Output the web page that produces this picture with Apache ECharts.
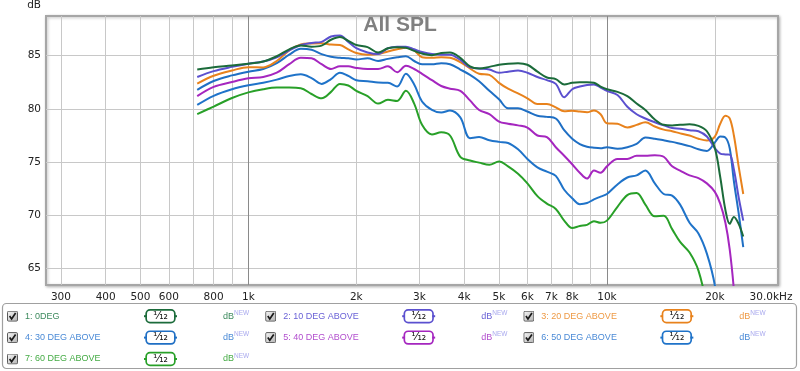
<!DOCTYPE html>
<html>
<head>
<meta charset="utf-8">
<script src="https://cdn.jsdelivr.net/npm/echarts@6/dist/echarts.min.js"></script>
<style>
html,body{margin:0;padding:0;background:#fff;}
#chart{width:800px;height:371px;}
</style>
</head>
<body>
<div id="chart"></div>
<script>
// ---------- data ----------
const FREQ_HZ = [720, 800, 900, 1000, 1100, 1200, 1300, 1400, 1500, 1600, 1700, 1800, 1900, 2000, 2150, 2300, 2450, 2600, 2750, 2900,
  3050, 3250, 3450, 3650, 3900, 4150, 4400, 4700, 5000, 5300, 5650, 6000, 6400, 6800, 7200, 7600, 8000, 8400, 8800, 9200,
  9600, 10000, 10700, 11400, 12100, 12800, 13600, 14400, 15200, 16000, 17000, 18000, 19000, 20000, 20700, 21400, 22000, 22600, 23300, 24000];

const SERIES_NAMES = ['1: 0DEG', '2: 10 DEG ABOVE', '3: 20 DEG ABOVE', '4: 30 DEG ABOVE', '5: 40 DEG ABOVE', '6: 50 DEG ABOVE', '7: 60 DEG ABOVE'];

const DB_0DEG = [83.7, 83.92, 84.07, 84.24, 84.45, 84.95, 85.6, 85.95, 85.85, 85.95, 86.5, 86.75, 86.4, 86.0, 85.8, 85.3, 85.7, 85.8, 85.75, 85.45,
  85.2, 85.05, 85.25, 85.3, 84.8, 84.0, 83.8, 83.95, 84.15, 84.25, 84.3, 84.15, 83.5, 82.95, 82.8, 82.3, 82.45, 82.5, 82.5, 82.45,
  82.1, 81.85, 81.6, 81.2, 80.5, 79.9, 79.0, 78.5, 78.45, 78.5, 78.55, 78.4, 77.9, 76.3, 73.6, 70.5, 69.2, 69.85, 69.2, 68.0];
const DB_10DEG = [83.0, 83.55, 83.95, 84.25, 84.45, 84.85, 85.5, 86.0, 86.2, 86.3, 86.8, 86.9, 86.3, 85.7, 85.3, 85.15, 85.7, 85.85, 85.85, 85.6,
  85.35, 85.15, 85.1, 85.1, 84.6, 83.9, 83.8, 83.7, 83.4, 83.5, 83.6, 83.4, 83.0, 82.7, 82.35, 81.1, 81.85, 82.1, 82.25, 82.3,
  82.0, 81.7, 81.3, 80.2, 79.5, 79.1, 78.75, 78.45, 78.2, 78.13, 78.0, 77.9, 77.4, 76.3, 75.8, 75.72, 75.7, 74.3, 71.7, 69.5];
const DB_20DEG = [82.38, 83.12, 83.61, 83.92, 83.9, 84.5, 85.5, 86.05, 86.15, 86.17, 86.05, 86.0, 85.6, 85.25, 85.1, 85.15, 85.4, 85.6, 85.75, 85.5,
  84.85, 84.8, 84.85, 84.8, 84.4, 83.8, 83.3, 83.2, 82.45, 81.9, 81.45, 81.0, 80.45, 80.45, 80.15, 79.77, 79.83, 79.75, 79.68, 79.85,
  79.5, 78.65, 78.6, 78.25, 78.5, 78.75, 78.35, 78.05, 77.9, 77.7, 77.5, 77.2, 77.03, 77.4, 78.6, 79.35, 79.1, 77.5, 74.6, 72.0];
const DB_30DEG = [81.79, 82.62, 83.15, 83.5, 83.75, 84.3, 85.1, 85.65, 85.55, 85.15, 84.9, 84.8, 84.75, 84.65, 84.75, 84.5, 84.7, 84.85, 84.95, 84.5,
  84.2, 84.2, 84.3, 84.2, 83.7, 83.2, 82.6, 81.7, 80.9, 80.05, 80.05, 79.75, 79.35, 79.25, 79.1, 78.0, 77.2, 76.7, 76.45, 76.35,
  76.3, 76.4, 76.25, 76.4, 76.72, 77.3, 77.2, 77.05, 76.9, 76.72, 76.5, 76.2, 76.05, 76.85, 77.4, 77.3, 76.3, 73.2, 70.2, 67.0];
const DB_40DEG = [81.2, 82.07, 82.53, 82.87, 83.0, 83.4, 84.2, 84.8, 84.75, 84.2, 83.75, 84.0, 84.0, 83.85, 83.75, 83.75, 84.0, 83.45, 84.05, 83.75,
  83.3, 82.7, 82.15, 81.9, 81.7, 80.8, 79.9, 79.5, 78.8, 78.6, 78.45, 78.25, 77.5, 77.35, 76.4, 75.6, 74.8, 74.0, 73.45, 74.2,
  74.0, 74.6, 75.3, 75.3, 75.6, 75.6, 75.65, 75.5, 74.6, 74.2, 73.75, 73.5, 73.0, 72.2, 71.1, 69.3, 66.8, 63.0, 57.0, null];
const DB_50DEG = [80.37, 81.23, 81.85, 82.22, 82.45, 82.75, 83.1, 83.25, 82.9, 82.35, 82.8, 83.4, 83.1, 82.7, 82.6, 82.47, 82.45, 82.1, 83.3, 82.3,
  80.7, 79.9, 79.65, 79.85, 79.2, 77.25, 77.35, 77.05, 76.9, 76.8, 76.2, 75.3, 74.5, 74.1, 73.7, 72.4, 71.6, 71.05, 71.15, 71.5,
  71.75, 72.0, 72.9, 73.55, 73.75, 74.2, 73.0, 72.0, 71.85, 71.0, 69.3, 68.3, 66.4, 63.4, 59.0, null, null, null, null, null];
const DB_60DEG = [79.51, 80.22, 81.02, 81.55, 81.85, 82.0, 82.0, 81.95, 81.4, 81.0, 81.6, 82.35, 82.2, 81.7, 81.2, 80.5, 80.85, 80.75, 81.7, 80.5,
  78.5, 77.6, 77.8, 77.5, 75.5, 75.15, 74.95, 74.75, 75.05, 74.6, 73.9, 73.0, 71.8, 71.1, 70.6, 69.5, 68.8, 69.0, 69.1, 69.45,
  69.3, 69.5, 70.8, 71.9, 72.1, 71.0, 69.9, 69.95, 68.7, 67.5, 66.5, 64.8, 61.5, 57.0, null, null, null, null, null, null];

const SERIES_VALUES = [DB_0DEG, DB_10DEG, DB_20DEG, DB_30DEG, DB_40DEG, DB_50DEG, DB_60DEG];

// axis ticks / labels
const GRID_FREQS = [300, 400, 500, 600, 700, 800, 900, 2000, 3000, 4000, 5000, 6000, 7000, 8000, 9000, 20000];
const MAJOR_FREQS = [1000, 10000];
const TICK_FREQS = [300, 400, 500, 600, 800, 1000, 2000, 3000, 4000, 5000, 6000, 7000, 8000, 10000, 20000, 30000];
const TICK_LABELS = ['300', '400', '500', '600', '800', '1k', '2k', '3k', '4k', '5k', '6k', '7k', '8k', '10k', '20k', '30.0kHz'];
const DB_TICKS = [65, 70, 75, 80, 85];
const X_MIN_HZ = 272.6, X_MAX_HZ = 30000;
const Y_MIN_DB = 63.45, Y_MAX_DB = 88.73;

// ---------- styles ----------
const LINE_COLORS = ['#1b6b3a', '#5b50cf', '#e8821c', '#1f6fc4', '#a526bf', '#1f73c9', '#28a028'];
const TEXT_COLORS = ['#3d8a5e', '#6a62d6', '#ee9a45', '#4a8ad6', '#b24fce', '#4a8ad6', '#45ab45'];
const NEW_COLOR = '#a9a9ee';
const AX_FONT = 'DejaVu Sans';
const LG_FONT = 'Liberation Sans';

const L = v => Math.log10(v);

const cbSvg = "<svg xmlns='http://www.w3.org/2000/svg' width='11' height='11'><defs><linearGradient id='g' x1='0' y1='0' x2='1' y2='1'><stop offset='0' stop-color='#f6f6f6'/><stop offset='1' stop-color='#b4b4b4'/></linearGradient></defs><rect x='0.5' y='0.5' width='10' height='10' rx='1.2' fill='url(#g)' stroke='#5a5a5a'/><path d='M2.6 5.4 L4.6 8.2 L8.6 2.4' fill='none' stroke='#1a1a1a' stroke-width='1.7'/></svg>";
const CB_ICON = 'image://data:image/svg+xml;base64,' + btoa(cbSvg);

const rich = {
  p: { width: 2 },
  n: { width: 119, fontFamily: LG_FONT, fontSize: 9, lineHeight: 13 },
  g: { width: 46 },
  e: { width: 9 }
};
LINE_COLORS.forEach((c, i) => {
  rich['l' + i] = { width: 3, height: 2, backgroundColor: c };
  rich['b' + i] = { width: 25, height: 9, lineHeight: 9, padding: [1, 1, 1, 1], borderColor: c, borderWidth: 1.7, borderRadius: 3,
    backgroundColor: '#fff', align: 'center', color: '#111', fontFamily: AX_FONT, fontSize: 11 };
  rich['d' + i] = { color: TEXT_COLORS[i], fontFamily: LG_FONT, fontSize: 9, lineHeight: 13 };
  rich['s' + i] = { color: NEW_COLOR, fontFamily: LG_FONT, fontSize: 6.5, verticalAlign: 'top', lineHeight: 10 };
});

const chart = echarts.init(document.getElementById('chart'), null, { renderer: 'canvas' });

const xHelper = {
  type: 'value', min: L(X_MIN_HZ), max: L(X_MAX_HZ), position: 'bottom',
  axisLine: { show: false }, axisLabel: { show: false }
};

chart.setOption({
  animation: false,
  backgroundColor: '#fff',
  title: {
    text: 'All SPL', left: 'center', top: 10,
    textStyle: { fontFamily: LG_FONT, fontWeight: 'bold', fontSize: 21, color: '#808080' }
  },
  grid: {
    left: 46, top: 14, right: 22, bottom: 86, show: true,
    borderColor: '#a6a6a6', borderWidth: 2, backgroundColor: '#fff',
    shadowColor: 'rgba(0,0,0,0.25)', shadowBlur: 3, shadowOffsetX: 1, shadowOffsetY: 1
  },
  xAxis: [
    { type: 'log', logBase: 10, min: X_MIN_HZ, max: X_MAX_HZ, show: false },
    Object.assign({}, xHelper, {
      axisTick: { show: false, customValues: GRID_FREQS.map(L) },
      splitLine: { show: true, lineStyle: { color: '#c8c8c8', width: 1 } }
    }),
    Object.assign({}, xHelper, {
      axisTick: { show: false, customValues: MAJOR_FREQS.map(L) },
      splitLine: { show: true, lineStyle: { color: '#8a8a8a', width: 1 } }
    }),
    Object.assign({}, xHelper, {
      axisTick: { show: false, customValues: TICK_FREQS.map(L) },
      splitLine: { show: false },
      axisLabel: {
        show: true, customValues: TICK_FREQS.map(L), margin: 7,
        fontFamily: AX_FONT, fontSize: 10.5, color: '#222',
        formatter: function (v) {
          let j = 0, best = 1e9;
          TICK_FREQS.forEach((f, k) => { const d = Math.abs(L(f) - v); if (d < best) { best = d; j = k; } });
          return j === TICK_FREQS.length - 1 ? '{r|' + TICK_LABELS[j] + '}' : TICK_LABELS[j];
        },
        rich: { r: { fontFamily: AX_FONT, fontSize: 10.5, color: '#222', padding: [0, 14, 0, 0] } }
      }
    })
  ],
  yAxis: {
    type: 'value', min: Y_MIN_DB, max: Y_MAX_DB,
    name: 'dB', nameLocation: 'end', nameGap: 5,
    nameTextStyle: { fontFamily: AX_FONT, fontSize: 10.5, color: '#222', align: 'right', padding: [0, 5, 0, 0] },
    axisLine: { show: false },
    axisTick: { show: false, customValues: DB_TICKS },
    axisLabel: { customValues: DB_TICKS, fontFamily: AX_FONT, fontSize: 10.5, color: '#222', margin: 5 },
    splitLine: { show: true, lineStyle: { color: '#c8c8c8', width: 1 } }
  },
  legend: {
    left: 7, top: 309, width: 790, orient: 'horizontal',
    itemWidth: 11, itemHeight: 11, itemGap: 7, padding: 0, selectedMode: false, z: 10,
    data: SERIES_NAMES.map((n, i) => ({ name: n, icon: CB_ICON, textStyle: { color: TEXT_COLORS[i] } })),
    formatter: function (name) {
      const i = SERIES_NAMES.indexOf(name);
      return '{p|}{n|' + name + '}{l' + i + '|}{b' + i + '|¹⁄₁₂}{l' + i + '|}{g|}{d' + i + '|dB}{s' + i + '|NEW}{e|}';
    },
    textStyle: { fontFamily: LG_FONT, fontSize: 9, lineHeight: 13, rich: rich }
  },
  graphic: {
    elements: [{
      type: 'rect', z: 1, silent: true,
      shape: { x: 2.5, y: 303.5, width: 794, height: 65, r: 4 },
      style: { fill: '#fff', stroke: '#a0a0a0', lineWidth: 1.2 }
    }]
  },
  series: SERIES_NAMES.map((n, i) => ({
    name: n, type: 'line', xAxisIndex: 0, yAxisIndex: 0,
    data: FREQ_HZ.map((f, k) => [f, SERIES_VALUES[i][k]]),
    smooth: 0.35, showSymbol: false, symbol: 'none', connectNulls: false, clip: true,
    color: LINE_COLORS[i],
    lineStyle: { width: 2, color: LINE_COLORS[i] },
    z: 3 + (7 - i) * 0.01
  }))
});
</script>
</body>
</html>
